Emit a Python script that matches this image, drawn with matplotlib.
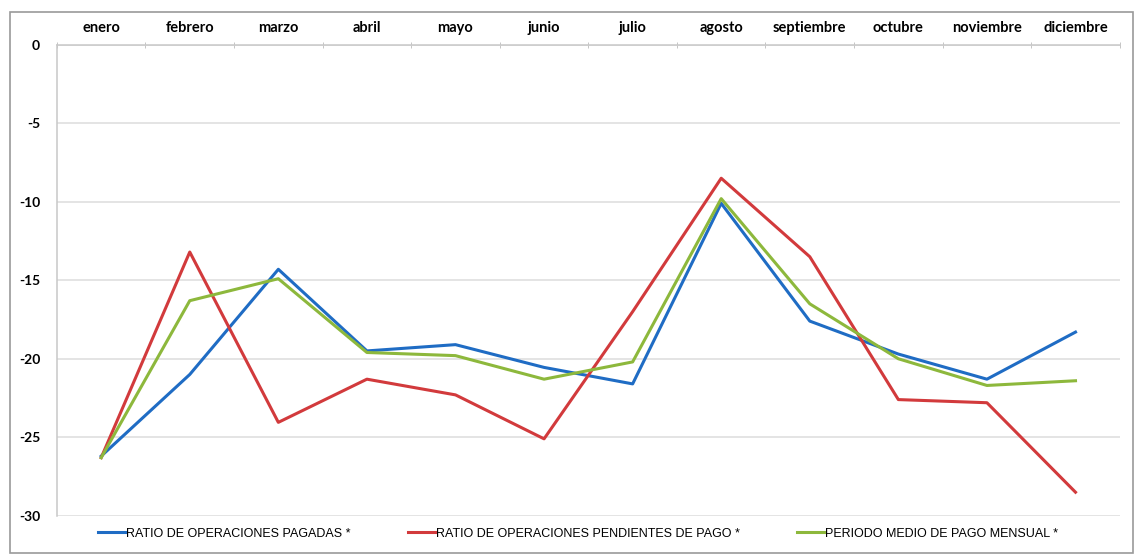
import numpy as np
import matplotlib.pyplot as plt
from matplotlib.patches import Rectangle

# meses y valores
meses = ['enero', 'febrero', 'marzo', 'abril', 'mayo', 'junio', 'julio',
         'agosto', 'septiembre', 'octubre', 'noviembre', 'diciembre']
pagadas = [-26.2, -21.0, -14.3, -19.5, -19.1, -20.55, -21.6, -10.1, -17.6, -19.7, -21.3, -18.3]
pendientes = [-26.3, -13.2, -24.05, -21.3, -22.3, -25.1, -17.0, -8.5, -13.5, -22.6, -22.8, -28.5]
periodo = [-26.3, -16.3, -14.9, -19.6, -19.8, -21.3, -20.2, -9.8, -16.5, -20.0, -21.7, -21.4]
nombres = ['RATIO DE OPERACIONES PAGADAS *',
           'RATIO DE OPERACIONES PENDIENTES DE PAGO *',
           'PERIODO MEDIO DE PAGO MENSUAL *']
colores = ['#1f6cc4', '#d23a3c', '#8db83c']
yticks = [0, -5, -10, -15, -20, -25, -30]

fig = plt.figure(figsize=(11.38, 5.6), dpi=100)
ax = fig.add_axes([0.050, 0.079, 0.934, 0.841])

x = np.arange(len(meses))
for serie, nombre, c in zip([pagadas, pendientes, periodo], nombres, colores):
    ax.plot(x, serie, color=c, lw=2.2, label=nombre)

ax.set_xlim(-0.5, len(meses) - 0.5)
ax.set_ylim(-30, 0)
ax.set_yticks(yticks)
ax.set_yticklabels([str(v) for v in yticks], fontweight='bold', fontsize=10,
                   family=['Lato', 'DejaVu Sans'])
ax.grid(axis='y', color='#dcdcdc', lw=1.1)
ax.set_axisbelow(True)

# eje x arriba (en y=0)
ax.xaxis.tick_top()
ax.set_xticks(x)
ax.set_xticklabels(meses, fontsize=10.5, fontweight='bold', family=['Lato', 'DejaVu Sans'])
ax.tick_params(axis='x', which='major', length=0, pad=7)
ax.set_xticks(np.arange(-0.5, len(meses)), minor=True)
ax.tick_params(axis='x', which='minor', length=4, direction='inout', color='#bbbbbb', top=True)
ax.tick_params(axis='y', length=0, pad=12)

for s in ['right', 'bottom']:
    ax.spines[s].set_visible(False)
for s in ['top', 'left']:
    ax.spines[s].set_color('#c8c8c8')
    ax.spines[s].set_linewidth(1.1)

fig.legend(loc='center', bbox_to_anchor=(0.508, 0.047), ncol=3, frameon=False,
           handlelength=2.2, handletextpad=0.05, columnspacing=4.6,
           prop={'family': ['Liberation Sans', 'DejaVu Sans'], 'size': 9})

# marco exterior
fig.patches.append(Rectangle((0.009, 0.013), 0.987, 0.966, transform=fig.transFigure,
                             fill=False, edgecolor='#9a9a9a', lw=1.2))

fig.savefig('out.png', dpi=100)
